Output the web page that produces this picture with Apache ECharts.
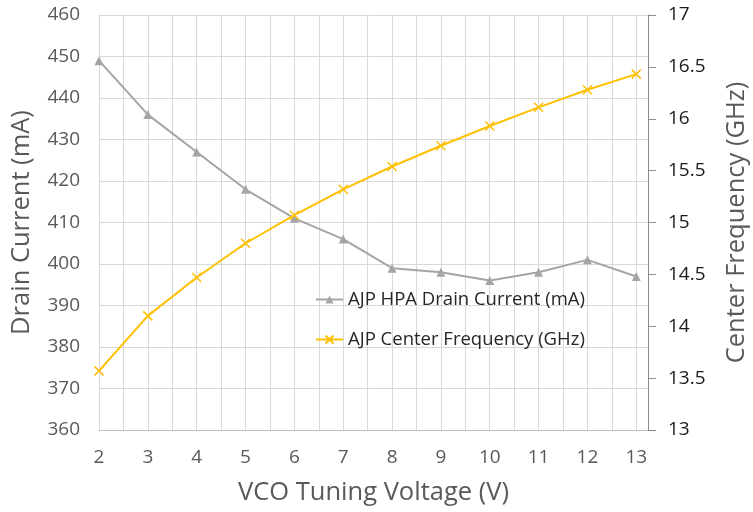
<!DOCTYPE html>
<html>
<head>
<meta charset="utf-8">
<script src="https://cdn.jsdelivr.net/npm/echarts@6/dist/echarts.min.js"></script>
<style>html,body{margin:0;padding:0;background:#fff}#c{width:753px;height:512px}</style>
</head>
<body>
<div id="c"></div>
<script>
const voltage = [2, 3, 4, 5, 6, 7, 8, 9, 10, 11, 12, 13];
const drainCurrent = [449, 436, 427, 418, 411, 406, 399, 398, 396, 398, 401, 397];
const centerFreq = [13.57, 14.10, 14.47, 14.80, 15.07, 15.32, 15.54, 15.74, 15.93, 16.11, 16.28, 16.43];
const seriesNames = ['AJP HPA Drain Current (mA)', 'AJP Center Frequency (GHz)'];
const xTitle = 'VCO Tuning Voltage (V)';
const yLeftTitle = 'Drain Current (mA)';
const yRightTitle = 'Center Frequency (GHz)';

const FONT = 'Open Sans';
const chart = echarts.init(document.getElementById('c'), null, {renderer: 'canvas'});
const xSym = 'path://M0,0L10,10M10,0L0,10';
chart.setOption({
  animation: false,
  backgroundColor: '#fff',
  textStyle: {fontFamily: FONT},
  grid: {left: 99, right: 105, top: 15, bottom: 82, containLabel: false, outerBoundsMode: 'none'},
  legend: {
    orient: 'vertical', left: 310, top: 285, itemGap: 21, itemWidth: 27, itemHeight: 10,
    textStyle: {fontFamily: FONT, fontSize: 18.5, color: '#262626'},
    data: seriesNames.slice()
  },
  xAxis: {
    type: 'value', min: 2, max: 13.24, interval: 0.5,
    name: xTitle, nameLocation: 'middle', nameGap: 50,
    nameTextStyle: {fontFamily: FONT, fontSize: 25.5, color: '#595959'},
    axisLine: {show: true, lineStyle: {color: '#bfbfbf', width: 1}},
    axisTick: {show: false},
    axisLabel: {margin: 18, fontSize: 19, color: '#595959', fontFamily: FONT,
      formatter: v => (Math.abs(v - Math.round(v)) < 1e-6 ? String(Math.round(v)) : ''),
      showMaxLabel: false},
    splitLine: {show: true, lineStyle: {color: '#d9d9d9', width: 1}}
  },
  yAxis: [
    {
      type: 'value', min: 360, max: 460, interval: 10, position: 'left',
      name: yLeftTitle, nameLocation: 'middle', nameGap: 64,
      nameTextStyle: {fontFamily: FONT, fontSize: 25.5, color: '#595959'},
      axisLine: {show: false}, axisTick: {show: false},
      axisLabel: {margin: 19, fontSize: 19, color: '#595959', fontFamily: FONT},
      splitLine: {show: true, lineStyle: {color: '#d9d9d9', width: 1}}
    },
    {
      type: 'value', min: 13, max: 17, interval: 0.5, position: 'right',
      name: yRightTitle, nameLocation: 'middle', nameGap: 76,
      nameTextStyle: {fontFamily: FONT, fontSize: 25.5, color: '#595959'},
      axisLine: {show: true, lineStyle: {color: '#8c8c8c', width: 1}},
      axisTick: {show: true, length: 8, lineStyle: {color: '#8c8c8c'}},
      axisLabel: {margin: 20, fontSize: 19, color: '#1a1a1a', fontFamily: FONT},
      splitLine: {show: false}
    }
  ],
  series: [
    {
      name: seriesNames[0], type: 'line', yAxisIndex: 0,
      data: voltage.map((v, i) => [v, drainCurrent[i]]),
      symbol: 'triangle', symbolSize: 9, showAllSymbol: true,
      lineStyle: {color: '#a5a5a5', width: 2},
      itemStyle: {color: '#a5a5a5'}
    },
    {
      name: seriesNames[1], type: 'line', yAxisIndex: 1,
      data: voltage.map((v, i) => [v, centerFreq[i]]),
      symbol: xSym, symbolSize: 9, showAllSymbol: true,
      lineStyle: {color: '#ffc000', width: 2},
      itemStyle: {color: 'none', borderColor: '#ffc000', borderWidth: 1.5}
    }
  ]
});
</script>
</body>
</html>
